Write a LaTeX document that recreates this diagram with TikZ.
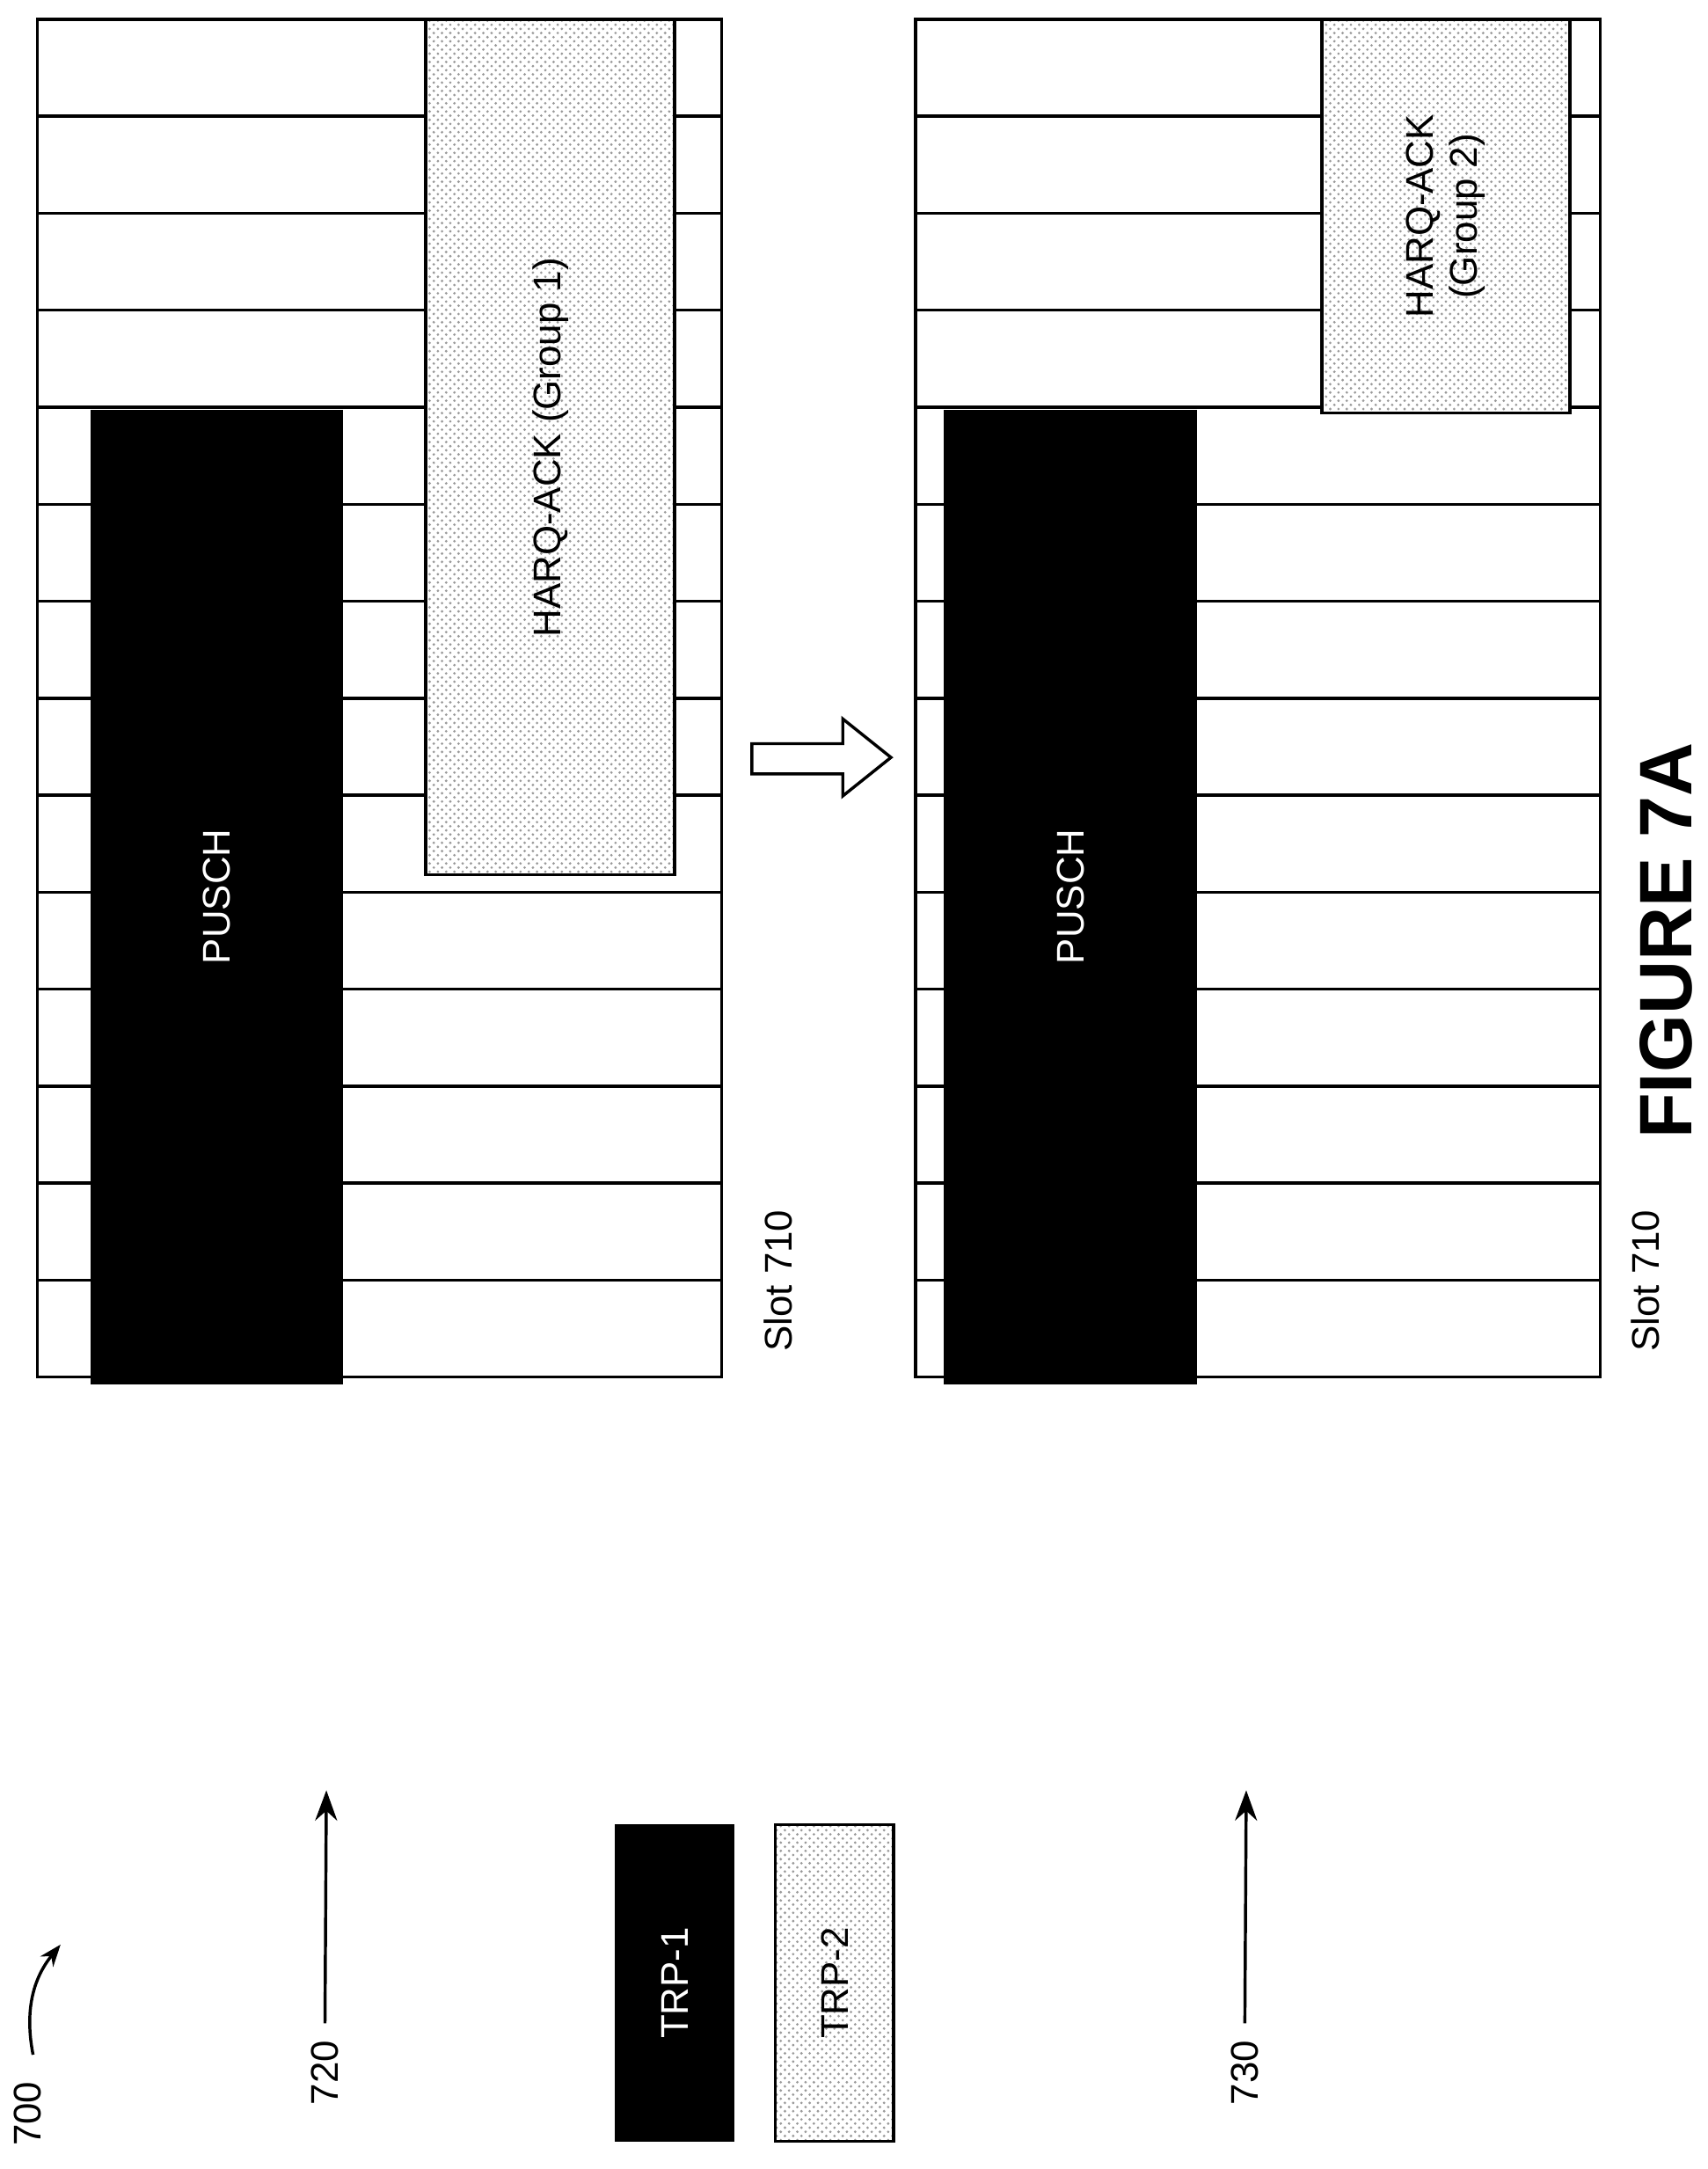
\documentclass[tikz,border=0pt]{standalone}
\usepackage{fontspec}
\setmainfont{Liberation Sans}
\usetikzlibrary{patterns,arrows.meta}
\tikzset{
    grid/.style={draw=black,line width=1.1pt},
    trp one/.style={draw=black,fill=black},
    trp two/.style={draw=black,line width=1.1pt,fill=gray!15,pattern=crosshatch dots,pattern color=gray!80},
    lbl/.style={font=\fontsize{14}{16}\selectfont,rotate=90,inner sep=0pt},
    ref arrow/.style={-{Stealth[length=11pt,width=8pt]},line width=1.1pt}
}
\begin{document}
\begin{tikzpicture}[x=0.5pt,y=-0.5pt]
    \useasboundingbox (0,0) rectangle (1240,1575);
    % slot grids
    \foreach \gx in {27,665} {
        \draw[grid] (\gx,14) rectangle (\gx+497,1000);
        \foreach \i in {1,...,13}
            \draw[grid] (\gx,14+\i*70.43) -- (\gx+497,14+\i*70.43);
    }
    % top grid
    \fill[trp one] (66,298) rectangle (249,1005);
    \node[lbl,white] (pusch1) at (157.5,651) {PUSCH};
    \fill[white] (309,14) rectangle (490,635);
    \draw[trp two] (309,14) rectangle (490,635);
    \node[lbl] (harq1) at (400,325) {HARQ-ACK (Group 1)};
    \node[lbl] (slot1) at (565,930) {Slot 710};
    % bottom grid
    \fill[trp one] (686,298) rectangle (869,1005);
    \node[lbl,white] (pusch2) at (777.5,651) {PUSCH};
    \fill[white] (960,14) rectangle (1140,300);
    \draw[trp two] (960,14) rectangle (1140,300);
    \node[lbl,align=center] (harq2) at (1050,157) {HARQ-ACK\\(Group 2)};
    \node[lbl] (slot2) at (1195,930) {Slot 710};
    % transition arrow
    \draw[line width=1.1pt,line join=miter] (546,540) -- (612,540) -- (612,522) -- (647,550)
        -- (612,578) -- (612,562) -- (546,562) -- cycle;
    \node[font=\bfseries\fontsize{27}{30}\selectfont,rotate=90,inner sep=0pt] (fig) at (1210,683) {FIGURE 7A};
    % legend
    \node[lbl] (n700) at (20,1535) {700};
    \draw[-{Stealth[length=8pt]},line width=1.1pt] (24,1492) to[bend left=25] (44,1412);
    \node[lbl] (n720) at (236,1505) {720};
    \coordinate (a720) at (237,1300);
    \draw[ref arrow] (n720.east) ++(0,-12) -- (a720);
    \node[lbl] (n730) at (904,1505) {730};
    \coordinate (a730) at (905,1300);
    \draw[ref arrow] (n730.east) ++(0,-12) -- (a730);
    \fill[trp one] (447,1325) rectangle (533,1555);
    \node[lbl,white] (trp1) at (490,1440) {TRP-1};
    \fill[white] (563,1325) rectangle (649,1555);
    \draw[trp two] (563,1325) rectangle (649,1555);
    \node[lbl] (trp2) at (606,1440) {TRP-2};
\end{tikzpicture}
\end{document}
